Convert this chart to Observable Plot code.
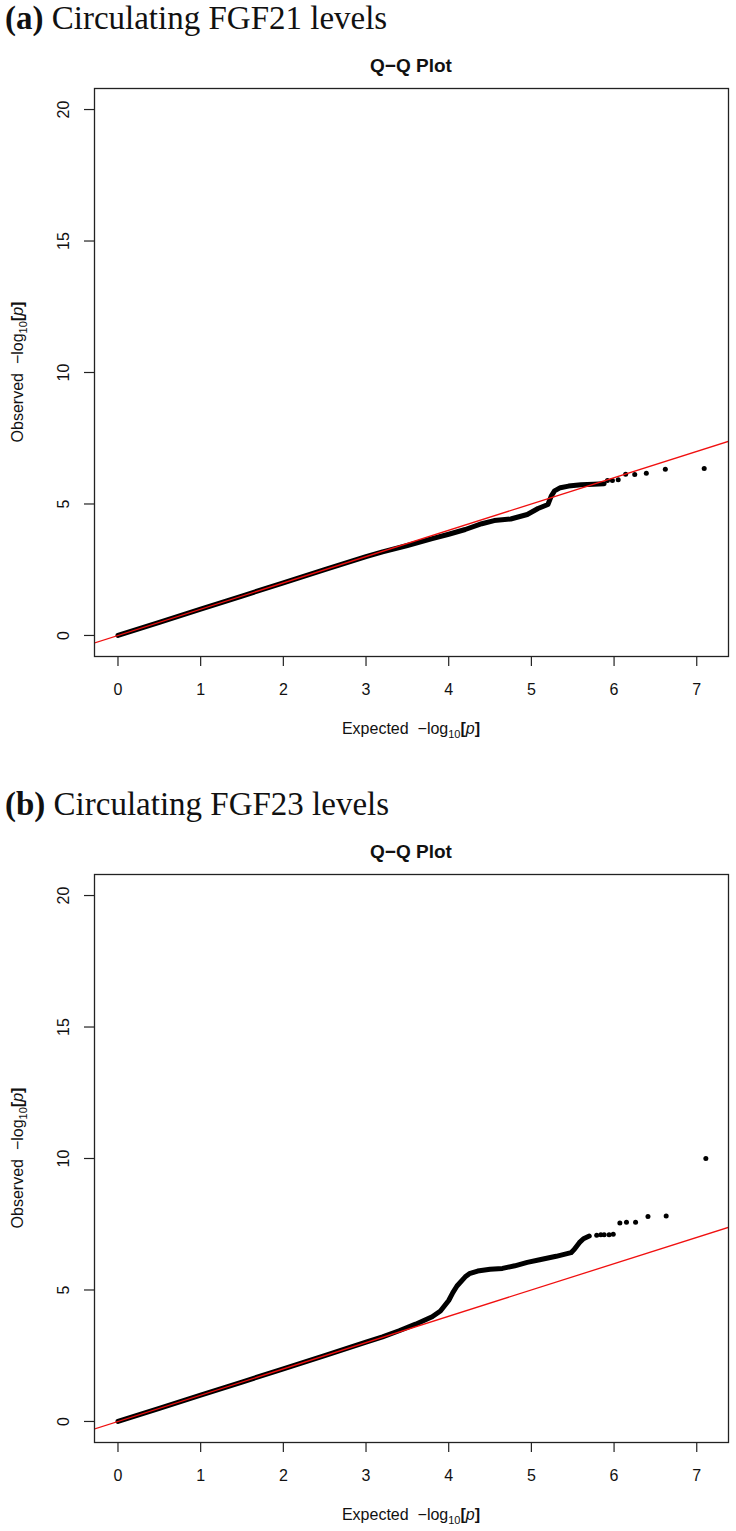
<!DOCTYPE html>
<html><head><meta charset="utf-8">
<script src="https://cdn.jsdelivr.net/npm/d3@7"></script>
<script src="https://cdn.jsdelivr.net/npm/@observablehq/plot@0.6"></script>
<style>
body{margin:0;background:#fff;}
#page{position:relative;width:736px;height:1531px;overflow:hidden;background:#fff;}
.block{position:absolute;left:0;width:736px;height:790px;}
.ptitle{position:absolute;left:5px;top:0px;font-family:"Liberation Serif","Times New Roman",serif;font-size:33px;line-height:37px;white-space:nowrap;color:#111;z-index:2;}
.qq{position:absolute;left:94px;top:55px;width:634px;text-align:center;font-family:"Liberation Sans",Arial,sans-serif;font-weight:bold;font-size:19px;line-height:21px;color:#111;z-index:2;}
.plotwrap{position:absolute;left:0;top:40px;z-index:1;}
</style></head><body><div id="page"></div>
<script>
// ---- data ----
const xTicks = [0, 1, 2, 3, 4, 5, 6, 7];
const yTicks = [0, 5, 10, 15, 20];
const expectedMax = 7.1;
const yLimits = [0, 20];

// (a) FGF21: dense part of the Q-Q curve (expected, observed)
const fgf21Expected = [0, 0.5, 1, 1.5, 2, 2.5, 3, 3.2, 3.5, 3.8, 4.0, 4.2, 4.4, 4.55, 4.75, 4.95, 5.08, 5.2, 5.24, 5.28, 5.35, 5.45, 5.6, 5.75, 5.88];
const fgf21Observed = [0, 0.5, 1, 1.5, 2, 2.5, 3, 3.18, 3.42, 3.68, 3.85, 4.03, 4.25, 4.37, 4.43, 4.6, 4.83, 4.98, 5.3, 5.5, 5.62, 5.68, 5.73, 5.75, 5.77];
// (a) FGF21: isolated top points
const fgf21TailExpected = [5.92, 5.98, 6.05, 6.14, 6.25, 6.39, 6.62, 7.09];
const fgf21TailObserved = [5.89, 5.89, 5.92, 6.13, 6.12, 6.17, 6.32, 6.35];

// (b) FGF23: dense part
const fgf23Expected = [0, 0.5, 1, 1.5, 2, 2.5, 3, 3.2, 3.4, 3.6, 3.8, 3.9, 4.0, 4.05, 4.1, 4.2, 4.25, 4.35, 4.5, 4.65, 4.8, 4.95, 5.1, 5.3, 5.48, 5.52, 5.58, 5.63, 5.7];
const fgf23Observed = [0, 0.5, 1, 1.5, 2, 2.5, 3.02, 3.22, 3.45, 3.7, 3.98, 4.2, 4.6, 4.9, 5.15, 5.5, 5.62, 5.72, 5.79, 5.82, 5.92, 6.05, 6.15, 6.28, 6.42, 6.55, 6.8, 6.95, 7.05];
// (b) FGF23: isolated top points
const fgf23TailExpected = [5.79, 5.84, 5.88, 5.94, 5.99, 6.07, 6.15, 6.26, 6.41, 6.63, 7.11];
const fgf23TailObserved = [7.08, 7.1, 7.1, 7.1, 7.12, 7.55, 7.58, 7.58, 7.79, 7.81, 10.0];

const refLine = [{intercept: 0, slope: 1}];

const panels = [
  {tag: "(a)", title: " Circulating FGF21 levels", e: fgf21Expected, o: fgf21Observed, te: fgf21TailExpected, to: fgf21TailObserved, top: 0},
  {tag: "(b)", title: " Circulating FGF23 levels", e: fgf23Expected, o: fgf23Observed, te: fgf23TailExpected, to: fgf23TailObserved, top: 786}
];

const page = document.getElementById("page");
const ext = (a, b) => [a - 0.04 * (b - a), b + 0.04 * (b - a)];
const xDom = ext(0, expectedMax);
const yDom = ext(yLimits[0], yLimits[1]);

for (const p of panels) {
  const block = document.createElement("div");
  block.className = "block";
  block.style.top = p.top + "px";

  const band = p.e.map((v, i) => ({x: v, y: p.o[i]}));
  const tail = p.te.map((v, i) => ({x: v, y: p.to[i]}));

  const svg = Plot.plot({
    width: 736, height: 706,
    marginTop: 48, marginBottom: 90, marginLeft: 94, marginRight: 8,
    x: {domain: xDom},
    y: {domain: yDom},
    style: {fontFamily: "'Liberation Sans', Arial, sans-serif", fontSize: "16px", color: "#111", background: "transparent"},
    marks: [
      Plot.line(band, {x: "x", y: "y", stroke: "black", strokeWidth: 5, strokeLinecap: "round", strokeLinejoin: "round"}),
      Plot.dot(tail, {x: "x", y: "y", r: 2.5, fill: "black", stroke: "none"}),
      Plot.link(refLine, {
        x1: () => xDom[0] - 1, y1: d => d.intercept + d.slope * (xDom[0] - 1),
        x2: () => xDom[1] + 1, y2: d => d.intercept + d.slope * (xDom[1] + 1),
        stroke: "#f01010", strokeWidth: 1.3, clip: true
      }),
      Plot.frame({stroke: "#222", strokeWidth: 1.3}),
      Plot.axisX(xTicks, {tickSize: 10, tickPadding: 17.5, label: null, stroke: "#222", strokeWidth: 1.2}),
      Plot.axisY(yTicks, {tickSize: 10, tickPadding: 16, tickRotate: -90, label: null, stroke: "#222", strokeWidth: 1.2})
    ]
  });

  const s = d3.select(svg);
  const font = "'Liberation Sans', Arial, sans-serif";
  const xt = s.append("text").attr("x", 411).attr("y", 694).attr("text-anchor", "middle")
    .attr("font-family", font).attr("font-size", 16).attr("fill", "#111");
  const ytl = s.append("text").attr("transform", "translate(23,332) rotate(-90)").attr("text-anchor", "middle")
    .attr("font-family", font).attr("font-size", 16).attr("fill", "#111");
  for (const [el, word] of [[xt, "Expected"], [ytl, "Observed"]]) {
    el.append("tspan").text(word + "  \u2212log");
    el.append("tspan").attr("font-size", 11).attr("dy", 4).text("10");
    el.append("tspan").attr("dy", -4).attr("font-weight", 900).text("[");
    el.append("tspan").attr("font-style", "italic").text("p");
    el.append("tspan").attr("font-weight", 900).text("]");
  }

  const wrap = document.createElement("div");
  wrap.className = "plotwrap";
  wrap.appendChild(svg);
  block.appendChild(wrap);

  const t = document.createElement("div");
  t.className = "ptitle";
  t.innerHTML = `<b>${p.tag}</b>${p.title}`;
  block.appendChild(t);
  const q = document.createElement("div");
  q.className = "qq";
  q.textContent = "Q\u2212Q Plot";
  block.appendChild(q);

  page.appendChild(block);
}
</script>
</body></html>
